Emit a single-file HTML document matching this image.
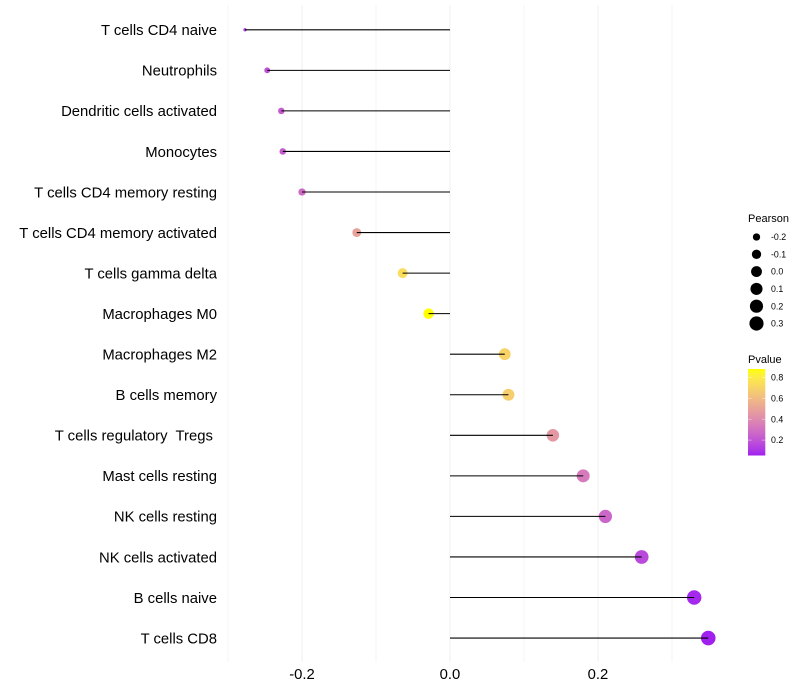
<!DOCTYPE html>
<html>
<head>
<meta charset="utf-8">
<title>Pearson lollipop chart</title>
<style>
html,body{margin:0;padding:0;background:#fff;}
svg{display:block;font-family:"Liberation Sans",Arial,sans-serif;}
</style>
</head>
<body>
<svg id="chart" width="800" height="700" viewBox="0 0 800 700" xmlns="http://www.w3.org/2000/svg"></svg>
<script>
const categories = ["T cells CD4 naive","Neutrophils","Dendritic cells activated","Monocytes","T cells CD4 memory resting","T cells CD4 memory activated","T cells gamma delta","Macrophages M0","Macrophages M2","B cells memory","T cells regulatory  Tregs ","Mast cells resting","NK cells resting","NK cells activated","B cells naive","T cells CD8"];
const pearson = [-0.277,-0.247,-0.228,-0.226,-0.2,-0.126,-0.064,-0.029,0.074,0.079,0.139,0.18,0.21,0.259,0.33,0.349];
const pvalue = [0.14,0.19,0.23,0.235,0.29,0.5,0.74,0.88,0.7,0.68,0.46,0.34,0.27,0.17,0.075,0.06];
const xMajorTicks = [-0.2,0,0.2];
const xMinorTicks = [-0.3,-0.1,0.1,0.3];
const xTickLabels = ["-0.2","0.0","0.2"];
const sizeLegendValues = [-0.2,-0.1,0,0.1,0.2,0.3];
const sizeLegendLabels = ["-0.2","-0.1","0.0","0.1","0.2","0.3"];
const colorLegendValues = [0.2,0.4,0.6,0.8];
const colorLegendLabels = ["0.2","0.4","0.6","0.8"];

const svg = document.getElementById('chart');
const NS = 'http://www.w3.org/2000/svg';
function make(tag, attrs, parent) {
  const el = document.createElementNS(NS, tag);
  for (const k in attrs) el.setAttribute(k, attrs[k]);
  (parent || svg).appendChild(el);
  return el;
}
function xScale(v) { return 450 + v * 740; }
function yScale(i) { return 29.8 + i * 40.55; }
const pMin = Math.min(...pvalue), pMax = Math.max(...pvalue);
const rMin = Math.min(...pearson), rMax = Math.max(...pearson);
function radius(v) {
  const t = Math.max(0, (v - rMin) / (rMax - rMin));
  return 1.7 + 5.6 * Math.sqrt(t);
}
function srgbToLab(c) {
  const l = c.map(function (v) { v /= 255; return v > 0.04045 ? Math.pow((v + 0.055) / 1.055, 2.4) : v / 12.92; });
  const X = (0.4124 * l[0] + 0.3576 * l[1] + 0.1805 * l[2]) / 0.95047;
  const Y = 0.2126 * l[0] + 0.7152 * l[1] + 0.0722 * l[2];
  const Z = (0.0193 * l[0] + 0.1192 * l[1] + 0.9505 * l[2]) / 1.08883;
  const f = function (t) { return t > 0.008856 ? Math.cbrt(t) : 7.787 * t + 16 / 116; };
  return [116 * f(Y) - 16, 500 * (f(X) - f(Y)), 200 * (f(Y) - f(Z))];
}
function labToCss(L) {
  const fy = (L[0] + 16) / 116, fx = fy + L[1] / 500, fz = fy - L[2] / 200;
  const g = function (t) { return t * t * t > 0.008856 ? t * t * t : (t - 16 / 116) / 7.787; };
  const X = g(fx) * 0.95047, Y = g(fy), Z = g(fz) * 1.08883;
  const rgb = [3.2406 * X - 1.5372 * Y - 0.4986 * Z, -0.9689 * X + 1.8758 * Y + 0.0415 * Z, 0.0557 * X - 0.204 * Y + 1.057 * Z];
  const out = rgb.map(function (v) {
    v = Math.min(1, Math.max(0, v));
    v = v > 0.0031308 ? 1.055 * Math.pow(v, 1 / 2.4) - 0.055 : 12.92 * v;
    return Math.round(v * 255);
  });
  return 'rgb(' + out.join(',') + ')';
}
const labLow = srgbToLab([160, 32, 240]);
const labHigh = srgbToLab([255, 255, 0]);
function colorAt(t) {
  return labToCss(labLow.map(function (v, i) { return v + (labHigh[i] - v) * t; }));
}
function pColor(p) { return colorAt((p - pMin) / (pMax - pMin)); }

// Grid
xMinorTicks.forEach(function (v) {
  const g = make('line', {x1: xScale(v), x2: xScale(v), y1: 5, y2: 662, stroke: '#f6f6f6', 'stroke-width': 1});
  
  
});
xMajorTicks.forEach(function (v) {
  const g = make('line', {x1: xScale(v), x2: xScale(v), y1: 5, y2: 662, stroke: '#efefef', 'stroke-width': 1});
  
  
});

// Points, then stems on top
categories.forEach(function (c, i) {
  const pt = make('circle', {cx: xScale(pearson[i]), cy: yScale(i), r: radius(pearson[i]), fill: pColor(pvalue[i])});
  
  
  const st = make('line', {x1: xScale(0), x2: xScale(pearson[i]), y1: yScale(i), y2: yScale(i), stroke: '#000', 'stroke-width': 1.07});
  
  
});

// Y labels
categories.forEach(function (c, i) {
  const t = make('text', {x: 217, y: yScale(i) + 5.3, 'text-anchor': 'end', 'font-size': 14.85, fill: '#000', 'xml:space': 'preserve', style: 'white-space:pre'});
  t.textContent = c;
  
  
});

// X labels
xMajorTicks.forEach(function (v, i) {
  const t = make('text', {x: xScale(v), y: 679, 'text-anchor': 'middle', 'font-size': 14.85, fill: '#000'});
  t.textContent = xTickLabels[i];
  
  
});

// Size legend
const sizeTitle = make('text', {x: 748, y: 222, 'font-size': 11, fill: '#000'});
sizeTitle.textContent = 'Pearson';


sizeLegendValues.forEach(function (v, i) {
  const y = 237 + i * 17.3;
  const c = make('circle', {cx: 756.5, cy: y, r: radius(v), fill: '#000'});
  
  
  const t = make('text', {x: 771, y: y + 3.1, 'font-size': 8.8, fill: '#000'});
  t.textContent = sizeLegendLabels[i];
  
  
});

// Colour legend
const colorTitle = make('text', {x: 748, y: 363, 'font-size': 11, fill: '#000'});
colorTitle.textContent = 'Pvalue';


const defs = make('defs', {});
const grad = make('linearGradient', {id: 'pgrad', x1: 0, y1: 1, x2: 0, y2: 0}, defs);
for (let s = 0; s <= 20; s++) {
  make('stop', {offset: s / 20, 'stop-color': colorAt(s / 20)}, grad);
}
const bar = make('rect', {x: 748, y: 369, width: 17.3, height: 86.5, fill: 'url(#pgrad)'});


function legendY(p) { return 461 - p * 104.5; }
colorLegendValues.forEach(function (v, i) {
  const y = legendY(v);
  const a = make('line', {x1: 748, x2: 751.5, y1: y, y2: y, stroke: '#fff', 'stroke-opacity': 0.7, 'stroke-width': 0.6});
  
  
  const b = make('line', {x1: 761.8, x2: 765.3, y1: y, y2: y, stroke: '#fff', 'stroke-opacity': 0.7, 'stroke-width': 0.6});
  
  
  const t = make('text', {x: 771, y: y + 3.1, 'font-size': 8.8, fill: '#000'});
  t.textContent = colorLegendLabels[i];
  
  
});
</script>
</body>
</html>
